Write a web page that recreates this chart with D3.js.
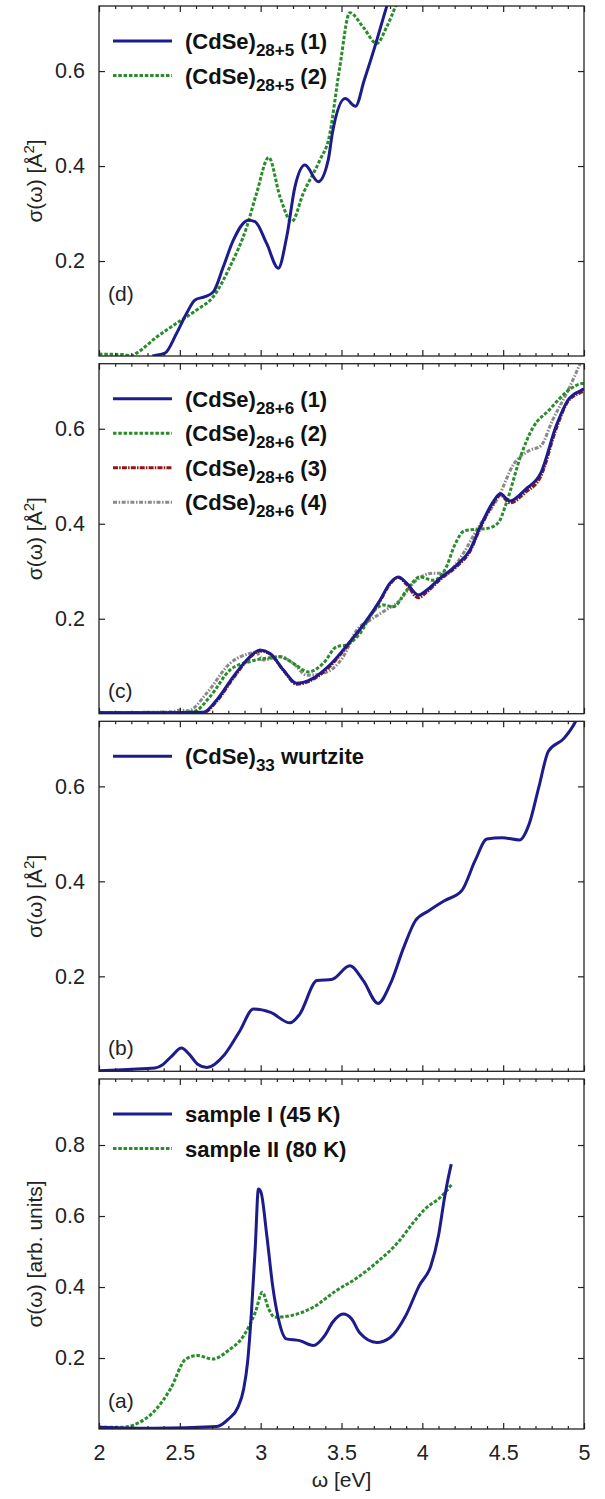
<!DOCTYPE html>
<html>
<head>
<meta charset="utf-8">
<script src="https://cdnjs.cloudflare.com/ajax/libs/d3/7.8.5/d3.min.js"></script>
<style>
  body { margin: 0; background: #fff; }
  svg { display: block; font-family: "Liberation Sans", Arial, sans-serif; }
</style>
</head>
<body>
<svg id="chart"></svg>
<script>
const width = 605, height = 1499;

// ---- data ----
const xMajorTicks = [2, 2.5, 3, 3.5, 4, 4.5, 5];
const yTicksTheory = [0.2, 0.4, 0.6];
const yTicksExp = [0.2, 0.4, 0.6, 0.8];

// panel (d)
const d1_x = [2.33, 2.346, 2.408, 2.48, 2.542, 2.594, 2.656, 2.707, 2.769, 2.831, 2.924, 2.965, 3.037, 3.109, 3.161, 3.212, 3.274, 3.356, 3.418, 3.444, 3.523, 3.587, 3.64, 3.706, 3.778, 3.83];
const d1_y = [0.0, 0.001, 0.006, 0.048, 0.09, 0.118, 0.125, 0.135, 0.188, 0.244, 0.286, 0.283, 0.237, 0.185, 0.251, 0.356, 0.402, 0.367, 0.413, 0.47, 0.542, 0.526, 0.58, 0.651, 0.734, 0.79];
const d2_x = [2.0, 2.15, 2.2, 2.233, 2.357, 2.48, 2.604, 2.707, 2.81, 2.914, 2.975, 3.05, 3.12, 3.192, 3.264, 3.367, 3.42, 3.49, 3.551, 3.635, 3.718, 3.778, 3.838, 3.88];
const d2_y = [0.004, 0.003, 0.0, 0.006, 0.04, 0.069, 0.097, 0.125, 0.188, 0.272, 0.343, 0.418, 0.335, 0.283, 0.343, 0.413, 0.456, 0.61, 0.723, 0.692, 0.658, 0.692, 0.74, 0.78];

// panel (c)
const c1_x = [2.0, 2.4, 2.645, 2.728, 2.831, 2.914, 2.996, 3.058, 3.141, 3.223, 3.305, 3.429, 3.553, 3.656, 3.738, 3.80, 3.851, 3.903, 3.975, 4.027, 4.109, 4.212, 4.295, 4.351, 4.434, 4.482, 4.542, 4.637, 4.733, 4.828, 4.9, 4.983, 5.0];
const c1_y = [0.002, 0.002, 0.003, 0.029, 0.078, 0.113, 0.134, 0.127, 0.092, 0.064, 0.071, 0.103, 0.152, 0.197, 0.239, 0.275, 0.288, 0.275, 0.25, 0.26, 0.285, 0.313, 0.345, 0.388, 0.444, 0.463, 0.448, 0.472, 0.507, 0.606, 0.66, 0.681, 0.684];
const c3_y = [0.002, 0.002, 0.002, 0.026, 0.075, 0.111, 0.132, 0.126, 0.091, 0.062, 0.069, 0.1, 0.15, 0.195, 0.237, 0.273, 0.287, 0.272, 0.244, 0.256, 0.282, 0.31, 0.342, 0.385, 0.44, 0.46, 0.444, 0.466, 0.5, 0.6, 0.657, 0.677, 0.68];
const c2_x = [2.0, 2.4, 2.583, 2.687, 2.81, 2.934, 3.037, 3.12, 3.202, 3.295, 3.387, 3.47, 3.532, 3.614, 3.697, 3.759, 3.82, 3.903, 3.985, 4.068, 4.15, 4.2, 4.26, 4.32, 4.40, 4.47, 4.518, 4.613, 4.685, 4.78, 4.924, 4.983, 5.0];
const c2_y = [0.002, 0.002, 0.004, 0.036, 0.092, 0.11, 0.117, 0.12, 0.106, 0.088, 0.106, 0.141, 0.145, 0.169, 0.215, 0.229, 0.225, 0.26, 0.288, 0.281, 0.31, 0.355, 0.385, 0.388, 0.39, 0.402, 0.442, 0.547, 0.603, 0.638, 0.686, 0.695, 0.696];
const c4_x = [2.0, 2.45, 2.5, 2.55, 2.666, 2.81, 2.934, 2.97, 3.016, 3.12, 3.202, 3.285, 3.387, 3.511, 3.594, 3.676, 3.759, 3.862, 3.944, 4.068, 4.15, 4.212, 4.351, 4.47, 4.566, 4.661, 4.733, 4.804, 4.9, 4.98];
const c4_y = [0.002, 0.004, 0.008, 0.006, 0.043, 0.106, 0.127, 0.13, 0.113, 0.12, 0.106, 0.081, 0.085, 0.12, 0.176, 0.197, 0.215, 0.239, 0.275, 0.296, 0.296, 0.317, 0.395, 0.456, 0.526, 0.554, 0.564, 0.617, 0.68, 0.74];

// panel (b)
const b1_x = [2.0, 2.179, 2.346, 2.394, 2.45, 2.51, 2.56, 2.61, 2.668, 2.776, 2.871, 2.955, 3.062, 3.181, 3.241, 3.348, 3.444, 3.551, 3.635, 3.726, 3.802, 3.885, 3.957, 4.04, 4.136, 4.243, 4.327, 4.399, 4.494, 4.601, 4.661, 4.721, 4.78, 4.876, 4.947, 4.99];
const b1_y = [0.001, 0.004, 0.007, 0.014, 0.032, 0.049, 0.035, 0.015, 0.008, 0.035, 0.085, 0.131, 0.124, 0.102, 0.12, 0.191, 0.194, 0.222, 0.191, 0.143, 0.184, 0.261, 0.317, 0.338, 0.359, 0.38, 0.444, 0.489, 0.492, 0.487, 0.521, 0.599, 0.674, 0.701, 0.736, 0.77];

// panel (a)
const a1_x = [2.0, 2.346, 2.728, 2.8, 2.859, 2.895, 2.919, 2.943, 2.967, 2.986, 3.002, 3.038, 3.074, 3.11, 3.158, 3.241, 3.325, 3.396, 3.444, 3.511, 3.563, 3.611, 3.718, 3.802, 3.897, 3.981, 4.053, 4.1, 4.136, 4.155, 4.179];
const a1_y = [0.005, 0.002, 0.007, 0.028, 0.061, 0.113, 0.188, 0.329, 0.516, 0.676, 0.667, 0.545, 0.404, 0.31, 0.254, 0.249, 0.235, 0.263, 0.30, 0.324, 0.31, 0.272, 0.244, 0.258, 0.319, 0.404, 0.46, 0.545, 0.648, 0.695, 0.746];
const a2_x = [2.0, 2.155, 2.227, 2.346, 2.442, 2.537, 2.609, 2.704, 2.8, 2.895, 2.967, 3.01, 3.05, 3.086, 3.181, 3.325, 3.468, 3.587, 3.73, 3.85, 3.945, 4.017, 4.112, 4.184];
const a2_y = [0.005, 0.005, 0.014, 0.052, 0.113, 0.197, 0.207, 0.197, 0.221, 0.263, 0.329, 0.385, 0.338, 0.315, 0.319, 0.343, 0.39, 0.423, 0.474, 0.526, 0.582, 0.62, 0.653, 0.69];

// ---- styles ----
const styles = {
  blue:  { stroke: "#1c1c8c", dash: null },
  green: { stroke: "#2a8c2a", dash: "3.5,1.8" },
  red:   { stroke: "#8e1616", dash: "5,1.2,1.5,1.2" },
  gray:  { stroke: "#8a8a8a", dash: "4,1.6,1.5,1.6" }
};

function zip(xs, ys) { return xs.map((x, i) => ({ x: x, y: ys[i] })); }

const panels = [
  { label: "(d)", labelY: 301, yMax: 0.737, yTicks: yTicksTheory, yTitle: "A",
    series: [
      { name: "(CdSe)", sub: "28+5", tail: " (1)", style: "blue", data: zip(d1_x, d1_y) },
      { name: "(CdSe)", sub: "28+5", tail: " (2)", style: "green", data: zip(d2_x, d2_y) }
    ] },
  { label: "(c)", labelY: 698, yMax: 0.737, yTicks: yTicksTheory, yTitle: "A",
    series: [
      { name: "(CdSe)", sub: "28+6", tail: " (1)", style: "blue", data: zip(c1_x, c1_y) },
      { name: "(CdSe)", sub: "28+6", tail: " (2)", style: "green", data: zip(c2_x, c2_y) },
      { name: "(CdSe)", sub: "28+6", tail: " (3)", style: "red", data: zip(c1_x, c3_y) },
      { name: "(CdSe)", sub: "28+6", tail: " (4)", style: "gray", data: zip(c4_x, c4_y) }
    ] },
  { label: "(b)", labelY: 1055, yMax: 0.737, yTicks: yTicksTheory, yTitle: "A",
    series: [
      { name: "(CdSe)", sub: "33", tail: " wurtzite", style: "blue", data: zip(b1_x, b1_y) }
    ] },
  { label: "(a)", labelY: 1408, yMax: 0.986, yTicks: yTicksExp, yTitle: "arb",
    series: [
      { name: "sample I (45 K)", sub: "", tail: "", style: "blue", data: zip(a1_x, a1_y) },
      { name: "sample II (80 K)", sub: "", tail: "", style: "green", data: zip(a2_x, a2_y) }
    ] }
];

// ---- layout ----
const left = 99, right = 584;
const panelTops = [6, 363.7, 721.3, 1079];
const panelH = 350;

const svg = d3.select("#chart").attr("width", width).attr("height", height);

const xScale = d3.scaleLinear().domain([2, 5]).range([left, right]);
const xMinorTicks = d3.range(20, 51).map(d => d / 10).filter(d => !xMajorTicks.some(m => Math.abs(m - d) < 1e-6));

panels.forEach((p, pi) => {
  const top = panelTops[pi], bottom = top + panelH;
  const yScale = d3.scaleLinear().domain([0, p.yMax]).range([bottom, top]);
  const g = svg.append("g");

  // clip
  const clipId = "clip" + pi;
  svg.append("clipPath").attr("id", clipId)
    .append("rect").attr("x", left).attr("y", top).attr("width", right - left).attr("height", panelH);

  // curves
  const line = d3.line().x(d => xScale(d.x)).y(d => yScale(d.y)).curve(d3.curveMonotoneX);
  const curves = g.append("g").attr("clip-path", "url(#" + clipId + ")");
  p.series.slice().reverse().forEach(s => {
    curves.append("path")
      .datum(s.data)
      .attr("d", line)
      .attr("fill", "none")
      .attr("stroke", styles[s.style].stroke)
      .attr("stroke-width", 3)
      .attr("stroke-linejoin", "round")
      .attr("stroke-dasharray", styles[s.style].dash);
  });

  // axes (ticks pointing inward on all four sides)
  const isBottomPanel = pi === panels.length - 1;
  g.append("g").attr("transform", "translate(0," + bottom + ")")
    .call(d3.axisBottom(xScale).tickValues(xMajorTicks).tickSize(-6).tickSizeOuter(0).tickPadding(16)
      .tickFormat(isBottomPanel ? d3.format("") : ""));
  g.append("g").attr("transform", "translate(0," + bottom + ")")
    .call(d3.axisBottom(xScale).tickValues(xMinorTicks).tickSize(-3).tickSizeOuter(0).tickFormat(""));
  g.append("g").attr("transform", "translate(0," + top + ")")
    .call(d3.axisTop(xScale).tickValues(xMajorTicks).tickSize(-6).tickSizeOuter(0).tickFormat(""));
  g.append("g").attr("transform", "translate(0," + top + ")")
    .call(d3.axisTop(xScale).tickValues(xMinorTicks).tickSize(-3).tickSizeOuter(0).tickFormat(""));
  g.append("g").attr("transform", "translate(" + left + ",0)")
    .call(d3.axisLeft(yScale).tickValues(p.yTicks).tickSize(-6).tickSizeOuter(0).tickPadding(14)
      .tickFormat(d3.format(".1f")));
  g.append("g").attr("transform", "translate(" + right + ",0)")
    .call(d3.axisRight(yScale).tickValues(p.yTicks).tickSize(-6).tickSizeOuter(0).tickFormat(""));

  g.selectAll(".domain").remove();
  g.selectAll(".tick line").attr("stroke", "#222").attr("stroke-width", 1.2);
  g.selectAll(".tick text").attr("font-size", 21.5).attr("fill", "#222")
    .attr("font-family", "'Liberation Sans', Arial, sans-serif");

  // frame
  g.append("rect")
    .attr("x", left).attr("y", top).attr("width", right - left).attr("height", panelH)
    .attr("fill", "none").attr("stroke", "#222").attr("stroke-width", 1.3);

  // legend
  p.series.forEach((s, i) => {
    const ry = top + 35 + i * 34.5;
    g.append("line")
      .attr("x1", 113).attr("x2", 172).attr("y1", ry).attr("y2", ry)
      .attr("stroke", styles[s.style].stroke).attr("stroke-width", 3)
      .attr("stroke-dasharray", styles[s.style].dash);
    const t = g.append("text").attr("x", 185).attr("y", ry + 8)
      .attr("font-size", 22).attr("font-weight", "bold").attr("fill", "#111");
    t.append("tspan").text(s.name);
    if (s.sub) {
      t.append("tspan").attr("dy", 7).attr("font-size", 17).text(s.sub);
      t.append("tspan").attr("dy", -7).text(s.tail);
    } else if (s.tail) {
      t.append("tspan").text(s.tail);
    }
  });

  // panel label
  g.append("text").attr("x", 108).attr("y", p.labelY)
    .attr("font-size", 21).attr("fill", "#222").text(p.label);

  // y title
  const yt = g.append("text")
    .attr("transform", "translate(42," + (top + panelH / 2) + ") rotate(-90)")
    .attr("text-anchor", "middle").attr("font-size", 21).attr("fill", "#222");
  if (p.yTitle === "A") {
    yt.append("tspan").text("σ(ω) [Å");
    yt.append("tspan").attr("dy", -8).attr("font-size", 15).text("2");
    yt.append("tspan").attr("dy", 8).text("]");
  } else {
    yt.text("σ(ω) [arb. units]");
  }
});

// x title
svg.append("text")
  .attr("x", (left + right) / 2).attr("y", 1487)
  .attr("text-anchor", "middle").attr("font-size", 21).attr("fill", "#222")
  .text("ω [eV]");
</script>
</body>
</html>
